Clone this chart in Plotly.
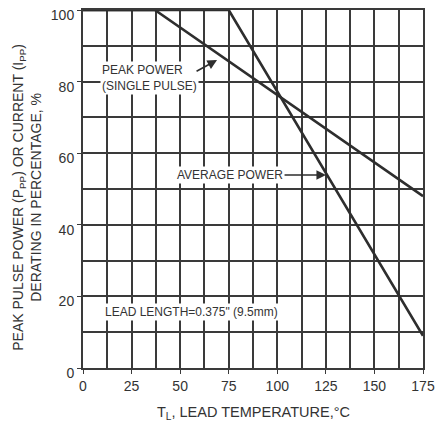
import plotly.graph_objects as go

# Data
peak_x = [0, 37, 175]
peak_y = [100, 100, 48]
avg_x = [0, 75, 175]
avg_y = [100, 100, 9]
x_ticks = [0, 25, 50, 75, 100, 125, 150, 175]
y_ticks = [0, 20, 40, 60, 80, 100]

FONT = "Liberation Sans, Arial, sans-serif"
INK = "#2e2e2e"
GRID = "#3a3a3a"

fig = go.Figure()
fig.add_trace(go.Scatter(x=peak_x, y=peak_y, mode="lines",
                         line=dict(color=INK, width=2.6), showlegend=False))
fig.add_trace(go.Scatter(x=avg_x, y=avg_y, mode="lines",
                         line=dict(color=INK, width=2.6), showlegend=False))

axis_common = dict(showgrid=True, gridcolor=GRID, gridwidth=1.7, automargin=False,
                   showline=True, linecolor=GRID, linewidth=2, mirror=True,
                   zeroline=False, ticks="outside", ticklen=4, tickcolor=GRID,
                   ticklabeloverflow="allow",
                   tickfont=dict(family=FONT, size=14, color="#333"))

fig.update_xaxes(range=[0, 175], tickvals=x_ticks,
                 minor=dict(dtick=12.5, showgrid=True, gridcolor=GRID, gridwidth=1.7, ticks=""),
                 **axis_common)
fig.update_yaxes(range=[0, 100], tickvals=y_ticks, ticklabelshift=5,
                 minor=dict(dtick=10, showgrid=True, gridcolor=GRID, gridwidth=1.7, ticks=""),
                 **axis_common)

txt = dict(family=FONT, size=12, color="#333")
fig.add_annotation(x=8.7, y=81, xref="x", yref="y", text="PEAK POWER<br>(SINGLE PULSE)",
                   showarrow=False, xanchor="left", yanchor="middle", align="left",
                   bgcolor="white", borderpad=1, font=txt)
# AVERAGE POWER label with its arrow (tip on the curve)
fig.add_annotation(x=125.1, y=53.9, xref="x", yref="y", text="AVERAGE POWER",
                   showarrow=True, ax=-96, ay=0, arrowhead=2, arrowsize=1.2,
                   arrowwidth=1.6, arrowcolor=INK, standoff=0,
                   bgcolor="white", borderpad=1, font=txt)
fig.add_annotation(x=10.3, y=15.6, xref="x", yref="y", text="LEAD LENGTH=0.375\" (9.5mm)",
                   showarrow=False, xanchor="left", yanchor="middle",
                   bgcolor="white", borderpad=1, font=txt)
# peak power arrow
fig.add_annotation(x=69, y=86, xref="x", yref="y", text="", showarrow=True,
                   ax=-22, ay=12, arrowhead=2, arrowsize=1.2, arrowwidth=1.6, arrowcolor=INK)

# axis titles
fig.add_annotation(x=-0.165, y=0.478, xref="paper", yref="paper", textangle=-90,
                   text="PEAK PULSE POWER (P<sub>PP</sub>) OR CURRENT (I<sub>PP</sub>)<br>DERATING IN PERCENTAGE, %",
                   showarrow=False, xanchor="center", yanchor="middle",
                   font=dict(family=FONT, size=14, color="#333"))
fig.add_annotation(x=0.5, y=-0.1257, xref="paper", yref="paper",
                   text="T<sub>L</sub>, LEAD TEMPERATURE,°C",
                   showarrow=False, xanchor="center", yanchor="middle",
                   font=dict(family=FONT, size=14.5, color="#333"))

fig.update_layout(width=440, height=425, margin=dict(l=83, r=17, t=10, b=57),
                  plot_bgcolor="white", paper_bgcolor="white")
fig.write_html("out.html")
